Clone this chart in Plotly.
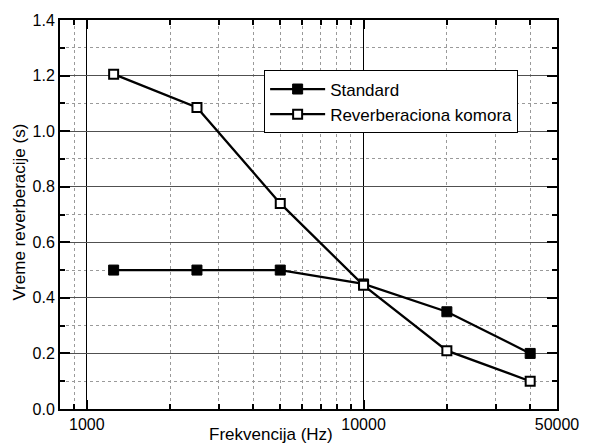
import plotly.graph_objects as go
import math

freq = [1250, 2500, 5000, 10000, 20000, 40000]
standard = [0.50, 0.50, 0.50, 0.45, 0.35, 0.20]
reverb = [1.205, 1.085, 0.74, 0.445, 0.21, 0.10]

x_major = [1000, 10000, 50000]
x_major_labels = ["1000", "10000", "50000"]
x_minor = [900, 2000, 3000, 4000, 5000, 6000, 7000, 8000, 9000, 20000, 30000, 40000]

FONT = "Liberation Sans, Arial, sans-serif"

fig = go.Figure()
fig.add_trace(go.Scatter(
    x=freq, y=standard, name="Standard", mode="lines+markers",
    line=dict(color="black", width=2.3),
    marker=dict(symbol="square", size=10, color="black", line=dict(color="black", width=1)),
))
fig.add_trace(go.Scatter(
    x=freq, y=reverb, name="Reverberaciona komora", mode="lines+markers",
    line=dict(color="black", width=2.3),
    marker=dict(symbol="square", size=9, color="white", line=dict(color="black", width=2)),
))

fig.update_layout(
    width=591, height=445,
    margin=dict(l=60, r=27, t=19, b=33),
    paper_bgcolor="white", plot_bgcolor="white",
    font=dict(family=FONT, size=16, color="black"),
    showlegend=True,
    legend=dict(
        x=(267 - 60) / 504, y=(412 - 70) / 393, xanchor="left", yanchor="top",
        bgcolor="white", bordercolor="black", borderwidth=1,
        font=dict(size=17), itemwidth=55, tracegroupgap=0,
    ),
)

fig.update_xaxes(
    type="log", range=[math.log10(800), math.log10(50000)],
    tickvals=x_major, ticktext=x_major_labels,
    showgrid=True, gridcolor="black", gridwidth=1,
    ticks="inside", ticklen=9, tickwidth=1.5, tickcolor="black",
    showline=True, linecolor="black", linewidth=2, mirror="ticks",
    zeroline=False,
    minor=dict(tickvals=x_minor, ticks="inside", ticklen=5, tickwidth=1.5, tickcolor="black",
               showgrid=True, gridcolor="#9a9a9a", griddash="dot", gridwidth=1),
)
fig.update_yaxes(
    range=[0, 1.4], tickvals=[0, 0.2, 0.4, 0.6, 0.8, 1.0, 1.2, 1.4],
    tickformat=".1f",
    showgrid=True, gridcolor="#505050", gridwidth=1.2,
    ticks="inside", ticklen=10, tickwidth=1.5, tickcolor="black",
    showline=True, linecolor="black", linewidth=2, mirror="ticks",
    zeroline=False,
    minor=dict(tickvals=[0.1, 0.3, 0.5, 0.7, 0.9, 1.1, 1.3], ticks="inside", ticklen=5, tickwidth=1.5,
               tickcolor="black", showgrid=True, gridcolor="#9a9a9a", griddash="dot", gridwidth=1),
)

fig.add_annotation(
    text="Frekvencija (Hz)", xref="paper", yref="paper",
    x=(274 - 60) / 504, y=(412 - 438) / 393, xanchor="center", yanchor="middle",
    showarrow=False, font=dict(size=17),
)
fig.add_annotation(
    text="Vreme reverberacije (s)", xref="paper", yref="paper",
    x=(18 - 60) / 504, y=(412 - 213) / 393, xanchor="center", yanchor="middle",
    textangle=-90, showarrow=False, font=dict(size=17),
)

fig.write_html("out.html")
